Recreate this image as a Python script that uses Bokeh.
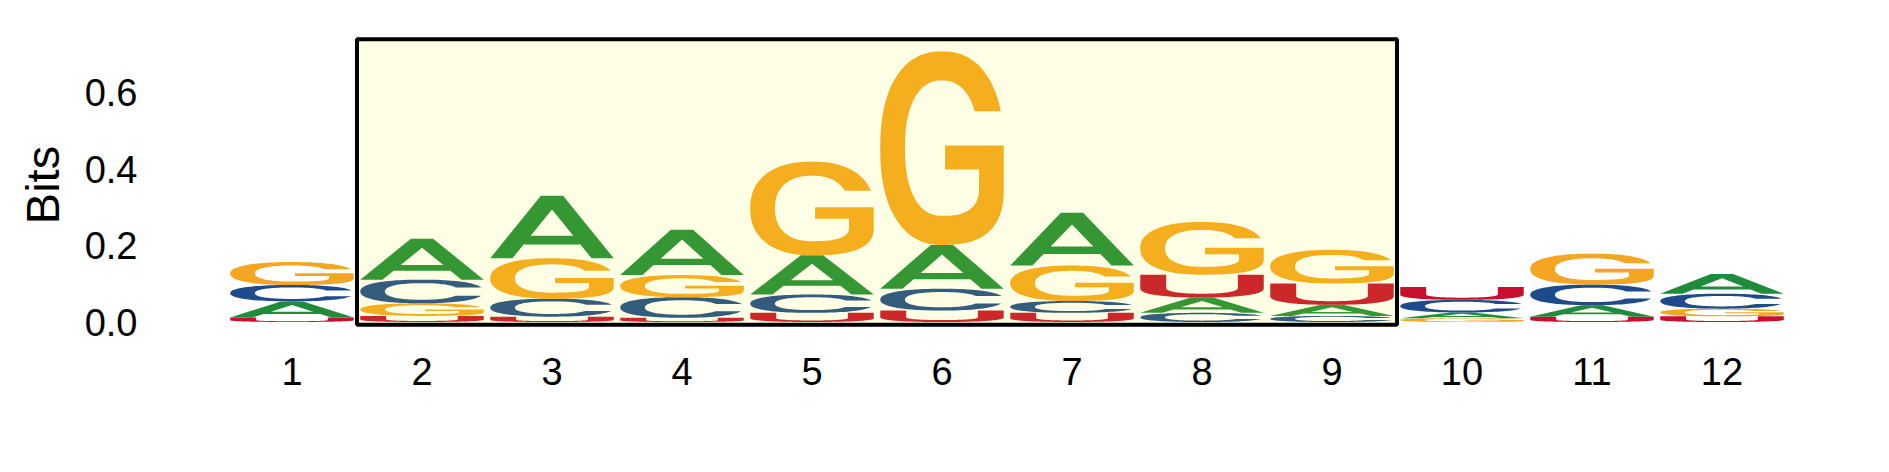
import numpy as np
from bokeh.plotting import figure
from bokeh.models import FixedTicker, PrintfTickFormatter, Range1d, ColumnDataSource
from bokeh.embed import file_html
from bokeh.resources import INLINE

# ---------------- data ----------------
positions = list(range(1, 13))
A_bits = [0.042, 0.107, 0.164, 0.119, 0.103, 0.115, 0.138, 0.040, 0.029, 0.015, 0.030, 0.052]
C_bits = [0.043, 0.062, 0.047, 0.054, 0.048, 0.057, 0.031, 0.024, 0.016, 0.033, 0.054, 0.039]
G_bits = [0.060, 0.033, 0.106, 0.058, 0.245, 0.507, 0.093, 0.138, 0.088, 0.010, 0.081, 0.020]
U_bits = [0.012, 0.016, 0.014, 0.011, 0.024, 0.030, 0.024, 0.060, 0.056, 0.034, 0.014, 0.015]
y_ticks = [0.0, 0.2, 0.4, 0.6]
highlight_start = 2
highlight_end = 9
highlight_floor = -0.007
highlight_ceiling = 0.741

# ---------------- style ----------------
colors = {"A": "#1e8c3a", "C": "#1e4b8c", "G": "#f4a521", "U": "#c8102e"}
letter_width = 0.95
FONT = "Liberation Sans"

# ---------------- glyph outlines in unit box ----------------
N_SE = 2.3


def se(cx, cy, a, b, t, n=N_SE):
    c, s = np.cos(t), np.sin(t)
    return (cx + a * np.sign(c) * np.abs(c) ** (2 / n),
            cy + b * np.sign(s) * np.abs(s) ** (2 / n))


def t_for_y(cy, b, y, n=N_SE):
    return np.arcsin(min(1.0, (abs(y - cy) / b) ** (n / 2)))


def glyph_C():
    ao, bo, ai, bi = 0.5, 0.5, 0.30, 0.35
    yu, yl = 0.67, 0.32
    to1 = t_for_y(0.5, bo, yu); to2 = -t_for_y(0.5, bo, yl)
    ti1 = t_for_y(0.5, bi, yu); ti2 = -t_for_y(0.5, bi, yl)
    t_out = np.linspace(to1, 2 * np.pi + to2, 90)
    t_in = np.linspace(2 * np.pi + ti2, ti1, 90)
    xo, yo = se(0.5, 0.5, ao, bo, t_out)
    xi, yi = se(0.5, 0.5, ai, bi, t_in)
    return [(np.concatenate([xo, xi]), np.concatenate([yo, yi]))]


def glyph_G():
    ao, bo, ai, bi = 0.5, 0.5, 0.30, 0.35
    yu = 0.69
    to1 = t_for_y(0.5, bo, yu)
    ti1 = t_for_y(0.5, bi, yu)
    # outer: terminal -> top -> left -> bottom
    xo1, yo1 = se(0.5, 0.5, ao, bo, np.linspace(to1, 1.5 * np.pi, 80))
    # outer bottom-right corner, boxier
    xo2, yo2 = se(0.5, 0.3, 0.5, 0.3, np.linspace(1.5 * np.pi, 2 * np.pi, 30), n=2.6)
    mx = [1.0, 0.525, 0.525, 0.8, 0.8]
    my = [0.513, 0.513, 0.39, 0.39, 0.3]
    # inner bottom-right corner
    xi2, yi2 = se(0.5, 0.3, 0.3, 0.15, np.linspace(2 * np.pi, 1.5 * np.pi, 30), n=2.6)
    # inner: bottom -> left -> top -> terminal
    xi1, yi1 = se(0.5, 0.5, ai, bi, np.linspace(1.5 * np.pi, ti1, 80))
    x = np.concatenate([xo1, xo2, mx, xi2, xi1])
    y = np.concatenate([yo1, yo2, my, yi2, yi1])
    return [(x, y)]


def glyph_U():
    t_out = np.linspace(np.pi, 2 * np.pi, 60)
    t_in = np.linspace(2 * np.pi, np.pi, 60)
    xo, yo = se(0.5, 0.4, 0.5, 0.4, t_out)
    xi, yi = se(0.5, 0.42, 0.29, 0.25, t_in)
    x = np.concatenate([[0.0], xo, [1.0, 0.79], xi, [0.21]])
    y = np.concatenate([[1.0], yo, [1.0, 1.0], yi, [1.0]])
    return [(x, y)]


def glyph_A():
    k = 0.41
    ox = [0.0, k, 1 - k, 1.0, 0.82, 0.82 - k * 0.22, 0.18 + k * 0.22, 0.18]
    oy = [0.0, 1.0, 1.0, 0.0, 0.0, 0.22, 0.22, 0.0]
    hx = [0.18 + k * 0.36, 0.5, 0.82 - k * 0.36]
    hy = [0.36, 0.78, 0.36]
    return [(np.array(ox), np.array(oy)), (np.array(hx), np.array(hy))]


glyphs = {"A": glyph_A(), "C": glyph_C(), "G": glyph_G(), "U": glyph_U()}

# ---------------- stack letters ----------------
bits = {"A": A_bits, "C": C_bits, "G": G_bits, "U": U_bits}
xs, ys, cols = [], [], []
for i, pos in enumerate(positions):
    order = sorted(bits.keys(), key=lambda L: bits[L][i])
    y0 = 0.0
    for L in order:
        h = bits[L][i]
        rings_x, rings_y = [], []
        for gx, gy in glyphs[L]:
            rings_x.append(list(pos - letter_width / 2 + gx * letter_width))
            rings_y.append(list(y0 + gy * h))
        xs.append([rings_x])
        ys.append([rings_y])
        cols.append(colors[L])
        y0 += h

src = ColumnDataSource(dict(xs=xs, ys=ys, color=cols))

# ---------------- layout (pixels in the screenshot) ----------------
fig_w, fig_h = 1873, 456
frame_left, frame_right, frame_top, frame_bottom = 158, 1860, 28, 341
px_pos1, px_per_pos = 291.5, 130.0
px_zero, px_per_bit = 321.5, 381.7
margin = 0

x_start = 1 - (px_pos1 - frame_left) / px_per_pos
x_end = 1 + (frame_right - px_pos1) / px_per_pos
y_end = (px_zero - frame_top) / px_per_bit
y_start = -(frame_bottom - px_zero) / px_per_bit

p = figure(width=fig_w, height=fig_h, output_backend="svg", toolbar_location=None,
           x_range=Range1d(x_start, x_end), y_range=Range1d(y_start, y_end),
           min_border_left=frame_left - margin, min_border_right=margin + fig_w - frame_right,
           min_border_top=frame_top - margin, min_border_bottom=fig_h + margin - frame_bottom)
p.outline_line_color = None
p.xgrid.grid_line_color = None
p.ygrid.grid_line_color = None
p.background_fill_color = "white"
p.border_fill_color = "white"

p.multi_polygons(xs="xs", ys="ys", fill_color="color", line_color=None, source=src)

p.quad(left=[highlight_start - 0.5], right=[highlight_end + 0.5],
       bottom=[highlight_floor], top=[highlight_ceiling],
       fill_color="yellow", fill_alpha=0.1, line_color="black", line_width=4)

for ax in (p.xaxis[0], p.yaxis[0]):
    ax.axis_line_color = None
    ax.major_tick_line_color = None
    ax.minor_tick_line_color = None
    ax.major_tick_out = 0
    ax.major_tick_in = 0
    ax.minor_tick_out = 0
    ax.major_label_text_font = FONT
    ax.major_label_text_font_size = "38px"
    ax.major_label_text_color = "black"

p.xaxis.ticker = FixedTicker(ticks=positions)
p.xaxis.major_label_standoff = 16
p.yaxis.ticker = FixedTicker(ticks=y_ticks)
p.yaxis.formatter = PrintfTickFormatter(format="%.1f")
p.yaxis.major_label_standoff = 21
p.yaxis.axis_label = "Bits"
p.yaxis.axis_label_text_font = FONT
p.yaxis.axis_label_text_font_size = "47px"
p.yaxis.axis_label_text_font_style = "normal"
p.yaxis.axis_label_text_color = "black"
p.yaxis.axis_label_standoff = 13

open("out.html", "w").write(file_html(p, INLINE))
